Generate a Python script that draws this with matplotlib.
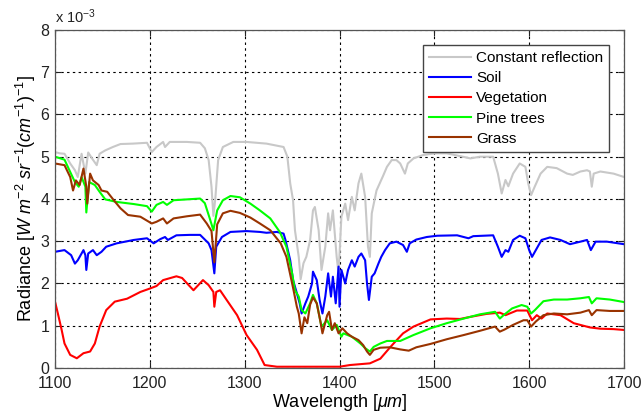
import matplotlib

matplotlib.use("Agg")

import matplotlib.pyplot as plt

plt.rcParams["font.family"] = ["Liberation Sans", "DejaVu Sans"]
plt.rcParams["mathtext.fontset"] = "custom"
plt.rcParams["mathtext.it"] = "Liberation Sans:italic"
plt.rcParams["mathtext.rm"] = "Liberation Sans"

# radiance values, in units of 1e-3 W m^-2 sr^-1 (cm^-1)^-1
grey_wl = [1100, 1105, 1110, 1116, 1121, 1124, 1128, 1132, 1135, 1139, 1144, 1147,
           1153, 1161, 1169, 1182, 1197, 1202, 1207, 1214, 1216, 1221, 1239, 1253,
           1258, 1262, 1265, 1267, 1269, 1272, 1277, 1288, 1302, 1323, 1341, 1345,
           1348, 1351, 1353, 1357, 1359, 1362, 1365, 1369, 1372, 1374, 1378, 1381,
           1385, 1388, 1390, 1393, 1397, 1399, 1402, 1406, 1409, 1413, 1416, 1420,
           1423, 1427, 1430, 1432, 1434, 1439, 1446, 1450, 1455, 1460, 1464, 1469,
           1472, 1478, 1488, 1501, 1513, 1530, 1538, 1548, 1562, 1567, 1571, 1575,
           1578, 1583, 1590, 1596, 1599, 1602, 1606, 1612, 1619, 1629, 1640, 1646,
           1654, 1661, 1664, 1666, 1668, 1675, 1689, 1700]
grey_val = [5.11, 5.08, 5.07, 4.84, 4.68, 4.52, 5.07, 4.60, 5.10, 4.96, 4.80, 5.07,
            5.15, 5.23, 5.30, 5.31, 5.33, 5.11, 5.23, 5.35, 5.23, 5.35, 5.35, 5.33,
            5.20, 4.92, 4.29, 3.60, 4.00, 4.92, 5.23, 5.35, 5.35, 5.31, 5.23, 5.00,
            4.37, 3.97, 3.26, 2.63, 2.10, 2.48, 2.63, 3.03, 3.73, 3.81, 3.26, 2.32,
            2.87, 3.66, 3.26, 3.73, 2.63, 2.24, 3.58, 3.89, 3.50, 4.05, 3.73, 4.37,
            4.60, 4.05, 2.87, 2.63, 3.66, 4.20, 4.55, 4.76, 4.92, 4.92, 4.84, 4.60,
            4.84, 4.96, 5.04, 5.08, 5.08, 5.00, 4.96, 5.00, 5.00, 4.60, 4.13, 4.45,
            4.30, 4.60, 4.84, 4.76, 4.37, 4.09, 4.30, 4.60, 4.76, 4.73, 4.60, 4.57,
            4.65, 4.68, 4.65, 4.29, 4.60, 4.65, 4.60, 4.52]

soil_wl = [1100, 1110, 1117, 1121, 1124, 1130, 1132, 1133, 1135, 1140, 1144, 1149,
           1154, 1165, 1183, 1197, 1204, 1211, 1216, 1219, 1228, 1242, 1253, 1262,
           1265, 1268, 1270, 1276, 1285, 1302, 1316, 1323, 1334, 1341, 1343, 1348,
           1351, 1355, 1358, 1360, 1364, 1367, 1371, 1372, 1376, 1379, 1382, 1385,
           1388, 1391, 1393, 1396, 1399, 1400, 1402, 1406, 1409, 1413, 1416, 1420,
           1423, 1427, 1429, 1431, 1434, 1437, 1441, 1444, 1448, 1453, 1460, 1467,
           1471, 1474, 1481, 1492, 1503, 1524, 1536, 1541, 1562, 1567, 1571, 1575,
           1578, 1583, 1590, 1596, 1600, 1603, 1607, 1613, 1622, 1633, 1643, 1654,
           1661, 1665, 1670, 1682, 1700]
soil_val = [2.75, 2.79, 2.67, 2.47, 2.55, 2.79, 2.67, 2.32, 2.71, 2.79, 2.67, 2.75,
            2.87, 2.95, 3.03, 3.07, 2.95, 3.05, 3.10, 3.03, 3.14, 3.15, 3.15, 2.95,
            2.79, 2.24, 2.87, 3.10, 3.22, 3.24, 3.22, 3.20, 3.22, 3.18, 3.03, 2.55,
            2.08, 1.77, 1.53, 1.29, 1.53, 1.69, 2.00, 2.28, 2.08, 1.61, 1.29, 1.69,
            2.24, 1.69, 2.16, 1.53, 2.40, 1.45, 2.32, 2.00, 2.32, 2.55, 2.40, 2.63,
            2.71, 2.55, 2.00, 1.61, 2.16, 2.24, 2.47, 2.63, 2.79, 2.95, 2.99, 2.91,
            2.75, 2.95, 3.04, 3.10, 3.13, 3.14, 3.07, 3.12, 3.14, 2.87, 2.63, 2.79,
            2.75, 3.03, 3.13, 3.07, 2.79, 2.63, 2.79, 3.03, 3.09, 3.03, 2.93, 2.99,
            3.03, 2.79, 2.99, 2.99, 2.93]

veg_wl = [1100, 1103, 1107, 1110, 1116, 1123, 1130, 1137, 1142, 1147, 1154, 1163,
          1176, 1190, 1200, 1207, 1214, 1228, 1234, 1241, 1246, 1251, 1256, 1262,
          1267, 1268, 1270, 1274, 1281, 1292, 1302, 1313, 1321, 1334, 1344, 1370,
          1400, 1411, 1432, 1443, 1453, 1457, 1467, 1478, 1496, 1513, 1527, 1538,
          1555, 1569, 1575, 1587, 1598, 1603, 1608, 1613, 1619, 1633, 1647, 1664,
          1675, 1689, 1700]
veg_val = [1.57, 1.29, 0.90, 0.58, 0.31, 0.23, 0.35, 0.39, 0.58, 0.98, 1.37, 1.57,
           1.64, 1.80, 1.88, 1.94, 2.08, 2.17, 2.13, 1.96, 1.84, 1.96, 2.08, 1.96,
           1.80, 1.45, 1.80, 1.84, 1.61, 1.25, 0.78, 0.43, 0.07, 0.03, 0.03, 0.03,
           0.03, 0.07, 0.11, 0.22, 0.48, 0.58, 0.82, 0.98, 1.15, 1.17, 1.16, 1.21,
           1.28, 1.31, 1.25, 1.36, 1.36, 1.13, 1.25, 1.17, 1.29, 1.25, 1.06, 0.96,
           0.93, 0.92, 0.90]

pine_wl = [1100, 1110, 1116, 1121, 1125, 1128, 1132, 1133, 1136, 1142, 1147, 1153,
           1165, 1183, 1197, 1202, 1207, 1214, 1218, 1225, 1239, 1253, 1258, 1263,
           1267, 1271, 1277, 1285, 1295, 1306, 1316, 1327, 1337, 1344, 1350, 1353,
           1357, 1360, 1364, 1369, 1372, 1376, 1381, 1387, 1392, 1397, 1402, 1404,
           1413, 1422, 1427, 1432, 1436, 1443, 1450, 1464, 1478, 1496, 1513, 1531,
           1548, 1564, 1569, 1573, 1582, 1592, 1598, 1602, 1606, 1615, 1626, 1640,
           1654, 1663, 1666, 1671, 1685, 1700]
pine_val = [5.00, 4.93, 4.64, 4.40, 4.29, 4.52, 4.29, 3.68, 4.40, 4.33, 4.17, 3.99,
            3.93, 3.88, 3.83, 3.70, 3.86, 3.93, 3.86, 3.97, 3.99, 4.01, 3.90, 3.55,
            3.26, 3.73, 3.97, 4.07, 4.04, 3.89, 3.73, 3.54, 3.22, 2.87, 2.24, 1.84,
            1.69, 1.37, 1.29, 1.53, 1.73, 1.53, 0.98, 1.13, 0.90, 1.02, 0.74, 0.82,
            0.74, 0.58, 0.47, 0.39, 0.50, 0.58, 0.64, 0.64, 0.78, 0.94, 1.06, 1.17,
            1.27, 1.33, 1.17, 1.25, 1.41, 1.49, 1.45, 1.29, 1.37, 1.58, 1.62, 1.62,
            1.65, 1.68, 1.53, 1.65, 1.62, 1.56]

grass_wl = [1100, 1110, 1116, 1119, 1122, 1126, 1130, 1133, 1134, 1137, 1140, 1146,
            1149, 1155, 1162, 1169, 1177, 1190, 1202, 1207, 1214, 1218, 1225, 1239,
            1253, 1260, 1265, 1268, 1271, 1277, 1285, 1295, 1306, 1316, 1327, 1338,
            1344, 1351, 1355, 1357, 1360, 1363, 1366, 1369, 1372, 1376, 1380, 1382,
            1387, 1389, 1392, 1395, 1399, 1403, 1408, 1413, 1420, 1425, 1429, 1432,
            1436, 1443, 1453, 1464, 1473, 1481, 1496, 1513, 1531, 1548, 1564, 1569,
            1574, 1583, 1594, 1598, 1602, 1607, 1615, 1626, 1640, 1654, 1663, 1666,
            1671, 1685, 1700]
grass_val = [4.84, 4.80, 4.52, 4.20, 4.44, 4.33, 4.72, 4.29, 3.89, 4.60, 4.44, 4.33,
             4.20, 4.17, 3.97, 3.78, 3.62, 3.58, 3.42, 3.46, 3.54, 3.42, 3.54, 3.59,
             3.63, 3.42, 3.24, 2.50, 3.40, 3.66, 3.72, 3.67, 3.56, 3.42, 3.26, 2.95,
             2.63, 1.90, 1.45, 1.29, 0.82, 1.20, 1.06, 1.50, 1.67, 1.53, 1.08, 0.82,
             1.25, 1.33, 0.90, 1.06, 0.82, 0.94, 0.82, 0.74, 0.66, 0.54, 0.39, 0.31,
             0.43, 0.48, 0.49, 0.44, 0.41, 0.49, 0.57, 0.68, 0.78, 0.88, 0.98, 0.86,
             0.91, 1.02, 1.13, 1.13, 0.98, 1.10, 1.25, 1.29, 1.27, 1.31, 1.37, 1.25,
             1.37, 1.35, 1.35]

series = [
    ("Constant reflection", grey_wl, grey_val, "#c8c8c8"),
    ("Soil", soil_wl, soil_val, "#0000ff"),
    ("Vegetation", veg_wl, veg_val, "#ff0000"),
    ("Pine trees", pine_wl, pine_val, "#00ff00"),
    ("Grass", grass_wl, grass_val, "#993300"),
]

fig = plt.figure(figsize=(6.42, 4.16), dpi=100)
ax = fig.add_axes([0.0857, 0.1154, 0.8863, 0.8126])

for name, wl, val, col in series:
    ax.plot(wl, val, color=col, lw=1.5, label=name)

ax.set_xlim(1100, 1700)
ax.set_ylim(0, 8)
ax.set_xticks(range(1100, 1701, 100))
ax.set_yticks(range(0, 9))
ax.tick_params(direction="in", length=4, labelsize=11.5, colors="#222222",
               top=True, right=True)
ax.tick_params(axis="x", pad=5.5)
ax.tick_params(axis="y", pad=4)
for s in ax.spines.values():
    s.set_color("#555555")
    s.set_linewidth(0.9)
ax.grid(True, color="black", linestyle=(0, (2.2, 3)), linewidth=0.8)

ax.set_xlabel(r"Wavelength [$\mu m$]", fontsize=13, labelpad=1)
ax.set_ylabel(r"Radiance [$W\ m^{-2}\ sr^{-1}(cm^{-1})^{-1}$]", fontsize=13, labelpad=2)
ax.text(0.0, 1.012, r"x 10$^{-3}$", transform=ax.transAxes, fontsize=10.5,
        ha="left", va="bottom", color="#222222")

leg = ax.legend(loc="upper right", bbox_to_anchor=(0.974, 0.955), fontsize=11,
                fancybox=False, framealpha=1, edgecolor="#444444",
                handlelength=2.7, handletextpad=0.35, labelspacing=0.4,
                borderpad=0.4, borderaxespad=0)
leg.get_frame().set_linewidth(1.0)

fig.savefig("out.png", dpi=100)
